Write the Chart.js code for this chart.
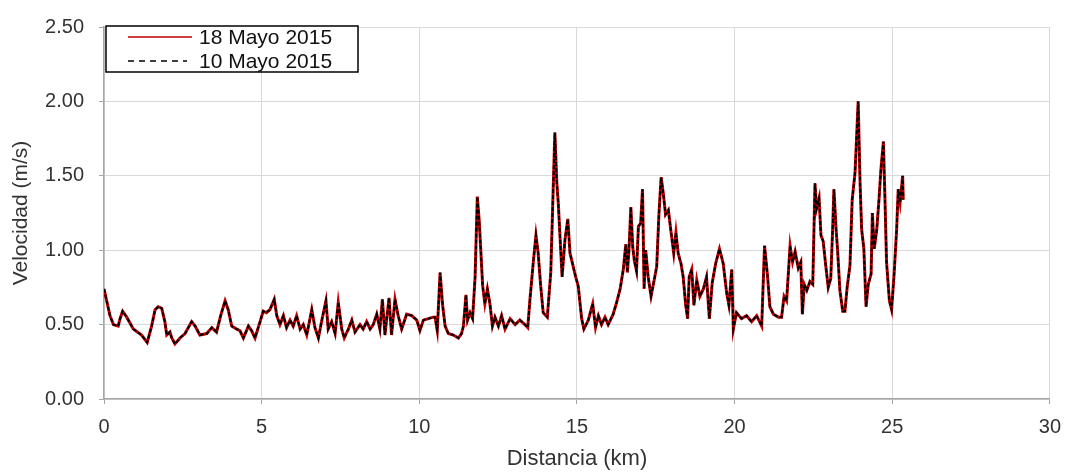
<!DOCTYPE html>
<html>
<head>
<meta charset="utf-8">
<script src="https://cdn.jsdelivr.net/npm/chart.js@4.4.1/dist/chart.umd.min.js"></script>
<style>
  html, body { margin: 0; padding: 0; background: #fff; }
  #wrap { width: 1072px; height: 475px; }
</style>
</head>
<body>
<div id="wrap"><canvas id="chart" width="1072" height="475"></canvas></div>
<script>
// Velocidad a lo largo del recorrido
const distanciaKm = [
  0, 0.19, 0.30, 0.45, 0.51, 0.59, 0.72, 0.93, 1.19, 1.37, 1.51, 1.62, 1.72, 1.83, 1.93, 1.99,
  2.09, 2.15, 2.25, 2.41, 2.57, 2.78, 2.89, 3.04, 3.26, 3.42, 3.57, 3.70, 3.84, 3.94, 4.05, 4.21,
  4.31, 4.42, 4.58, 4.68, 4.79, 4.95, 5.05, 5.15, 5.26, 5.40, 5.48, 5.58, 5.69, 5.79, 5.90, 6.00,
  6.11, 6.22, 6.32, 6.43, 6.59, 6.69, 6.80, 6.90, 7.04, 7.11, 7.22, 7.33, 7.43, 7.54, 7.62, 7.75,
  7.86, 7.96, 8.12, 8.22, 8.33, 8.44, 8.54, 8.65, 8.75, 8.83, 8.91, 9.04, 9.12, 9.23, 9.33, 9.44,
  9.60, 9.76, 9.92, 10.02, 10.13, 10.29, 10.44, 10.50, 10.57, 10.66, 10.74, 10.82, 10.92, 11.08, 11.24, 11.34,
  11.40, 11.48, 11.53, 11.61, 11.69, 11.77, 11.84, 11.90, 11.95, 12.01, 12.08, 12.16, 12.24, 12.32, 12.40, 12.51,
  12.61, 12.72, 12.88, 13.04, 13.19, 13.35, 13.44, 13.51, 13.62, 13.70, 13.77, 13.85, 13.93, 14.06, 14.17, 14.23,
  14.30, 14.36, 14.41, 14.48, 14.53, 14.62, 14.71, 14.78, 14.86, 14.96, 15.04, 15.15, 15.22, 15.36, 15.50, 15.59,
  15.68, 15.78, 15.89, 15.99, 16.15, 16.26, 16.37, 16.47, 16.55, 16.60, 16.65, 16.71, 16.77, 16.82, 16.89, 16.95,
  17.02, 17.08, 17.13, 17.18, 17.26, 17.35, 17.45, 17.53, 17.60, 17.67, 17.74, 17.81, 17.90, 17.98, 18.07, 18.14,
  18.21, 18.30, 18.37, 18.45, 18.51, 18.56, 18.64, 18.71, 18.80, 18.90, 19.01, 19.11, 19.20, 19.29, 19.40, 19.52,
  19.64, 19.75, 19.82, 19.91, 19.96, 20.06, 20.22, 20.38, 20.54, 20.70, 20.86, 20.95, 21.04, 21.12, 21.23, 21.39,
  21.49, 21.57, 21.65, 21.76, 21.84, 21.92, 22.02, 22.10, 22.15, 22.21, 22.29, 22.39, 22.48, 22.55, 22.60, 22.68,
  22.74, 22.81, 22.89, 22.97, 23.05, 23.11, 23.15, 23.22, 23.27, 23.34, 23.43, 23.50, 23.57, 23.66, 23.73, 23.82,
  23.92, 23.98, 24.03, 24.10, 24.17, 24.24, 24.33, 24.37, 24.43, 24.51, 24.58, 24.64, 24.72, 24.77, 24.82, 24.91,
  24.98, 25.06, 25.14, 25.19, 25.25, 25.33, 25.35
];
const vel18Mayo = [
  0.74, 0.56, 0.50, 0.49, 0.54, 0.59, 0.55, 0.47, 0.43, 0.38, 0.49, 0.60, 0.62, 0.61, 0.52, 0.43,
  0.45, 0.41, 0.37, 0.41, 0.44, 0.52, 0.49, 0.43, 0.44, 0.48, 0.45, 0.56, 0.66, 0.60, 0.49, 0.47,
  0.46, 0.41, 0.49, 0.46, 0.41, 0.52, 0.59, 0.58, 0.60, 0.67, 0.56, 0.50, 0.56, 0.48, 0.53, 0.49,
  0.56, 0.47, 0.50, 0.43, 0.60, 0.48, 0.41, 0.52, 0.66, 0.47, 0.52, 0.44, 0.65, 0.47, 0.41, 0.47,
  0.53, 0.45, 0.50, 0.47, 0.52, 0.47, 0.50, 0.57, 0.47, 0.67, 0.43, 0.68, 0.43, 0.67, 0.56, 0.47,
  0.57, 0.56, 0.53, 0.46, 0.53, 0.54, 0.55, 0.55, 0.46, 0.85, 0.63, 0.49, 0.44, 0.43, 0.41, 0.44,
  0.49, 0.70, 0.53, 0.58, 0.54, 0.82, 1.36, 1.20, 1.00, 0.76, 0.64, 0.74, 0.64, 0.49, 0.55, 0.49,
  0.56, 0.47, 0.54, 0.50, 0.53, 0.50, 0.48, 0.67, 0.93, 1.10, 0.98, 0.76, 0.58, 0.55, 0.85, 1.29,
  1.79, 1.46, 1.31, 1.02, 0.82, 1.07, 1.21, 0.98, 0.91, 0.82, 0.76, 0.54, 0.47, 0.53, 0.64, 0.48,
  0.56, 0.50, 0.55, 0.50, 0.57, 0.65, 0.74, 0.87, 1.04, 0.85, 1.00, 1.29, 1.02, 0.93, 0.86, 1.16,
  1.18, 1.41, 0.74, 1.00, 0.82, 0.69, 0.80, 0.89, 1.24, 1.49, 1.38, 1.24, 1.27, 1.13, 0.98, 1.12,
  0.98, 0.91, 0.82, 0.63, 0.54, 0.82, 0.87, 0.63, 0.80, 0.69, 0.74, 0.82, 0.54, 0.78, 0.91, 1.01,
  0.91, 0.71, 0.63, 0.87, 0.47, 0.58, 0.54, 0.56, 0.52, 0.56, 0.49, 1.03, 0.84, 0.62, 0.57, 0.55,
  0.55, 0.69, 0.66, 1.03, 0.92, 0.99, 0.88, 0.92, 0.57, 0.77, 0.73, 0.79, 0.77, 1.45, 1.28, 1.35,
  1.10, 1.06, 0.90, 0.75, 0.81, 1.14, 1.41, 1.14, 0.99, 0.73, 0.59, 0.59, 0.75, 0.90, 1.34, 1.52,
  2.00, 1.45, 1.14, 1.01, 0.62, 0.77, 0.84, 1.25, 1.01, 1.14, 1.34, 1.54, 1.73, 1.34, 0.92, 0.66,
  0.60, 0.84, 1.14, 1.41, 1.32, 1.50, 1.34
];
// la segunda campaña se superpone casi exactamente a la primera
const vel10Mayo = vel18Mayo.slice();

const xTicks = [0, 5, 10, 15, 20, 25, 30];
const yTicks = [0, 0.5, 1, 1.5, 2, 2.5];

const FONT = '"Liberation Sans", Arial, sans-serif';
const GRID = '#d9d9d9';
const EJE = '#a6a6a6';

function puntos(ys) {
  return distanciaKm.map((x, i) => ({ x, y: ys[i] }));
}

const leyendaCaja = {
  id: 'leyendaCaja',
  afterDraw(chart) {
    const ctx = chart.ctx;
    const ds = chart.data.datasets;
    ctx.save();
    ctx.fillStyle = '#fff';
    ctx.fillRect(106, 26, 252, 46);
    ctx.strokeStyle = '#000';
    ctx.lineWidth = 1.5;
    ctx.strokeRect(106, 26, 252, 46);
    ctx.font = '21px ' + FONT;
    ctx.textBaseline = 'middle';
    ctx.fillStyle = '#111';
    const filas = [37, 61];
    ds.forEach((d, i) => {
      const y = filas[i];
      ctx.beginPath();
      ctx.strokeStyle = d.borderColor;
      ctx.lineWidth = 1.5;
      ctx.setLineDash(i === 1 ? [6, 5] : []);
      ctx.moveTo(128, y);
      ctx.lineTo(i === 1 ? 187 : 192, y);
      ctx.stroke();
      ctx.setLineDash([]);
      ctx.fillText(d.label, 199, y + 1);
    });
    ctx.restore();
  },
};

new Chart(document.getElementById('chart'), {
  type: 'line',
  data: {
    datasets: [
      {
        label: '18 Mayo 2015',
        data: puntos(vel18Mayo),
        borderColor: '#c00000',
        borderWidth: 3,
        pointRadius: 0,
        tension: 0,
        order: 2,
      },
      {
        label: '10 Mayo 2015',
        data: puntos(vel10Mayo),
        borderColor: '#000000',
        borderWidth: 2,
        borderDash: [4, 2],
        pointRadius: 0,
        tension: 0,
        order: 1,
      },
    ],
  },
  options: {
    responsive: false,
    animation: false,
    layout: { padding: { top: 19, right: 20, left: 0, bottom: 0 } },
    plugins: { legend: { display: false }, tooltip: { enabled: false } },
    scales: {
      x: {
        type: 'linear',
        min: 0,
        max: 30,
        afterBuildTicks: (s) => { s.ticks = xTicks.map((v) => ({ value: v })); },
        afterFit: (s) => { s.height = 76; },
        ticks: { font: { family: FONT, size: 20 }, color: '#333', padding: 11 },
        grid: { color: GRID, tickLength: 5, tickColor: EJE },
        border: { color: EJE, width: 1.5 },
        title: {
          display: true,
          text: 'Distancia (km)',
          font: { family: FONT, size: 22 },
          color: '#333',
          padding: { top: 0, bottom: 3 },
        },
      },
      y: {
        min: 0,
        max: 2.5,
        afterBuildTicks: (s) => { s.ticks = yTicks.map((v) => ({ value: v })); },
        afterFit: (s) => { s.width = 104; },
        ticks: {
          font: { family: FONT, size: 20 },
          color: '#333',
          padding: 15,
          callback: (v) => Number(v).toFixed(2),
        },
        grid: { color: GRID, tickLength: 5, tickColor: EJE },
        border: { color: EJE, width: 1.5 },
        title: {
          display: true,
          text: 'Velocidad (m/s)',
          font: { family: FONT, size: 21 },
          color: '#333',
          padding: { top: 9, bottom: 0 },
        },
      },
    },
  },
  plugins: [leyendaCaja],
});
</script>
</body>
</html>
